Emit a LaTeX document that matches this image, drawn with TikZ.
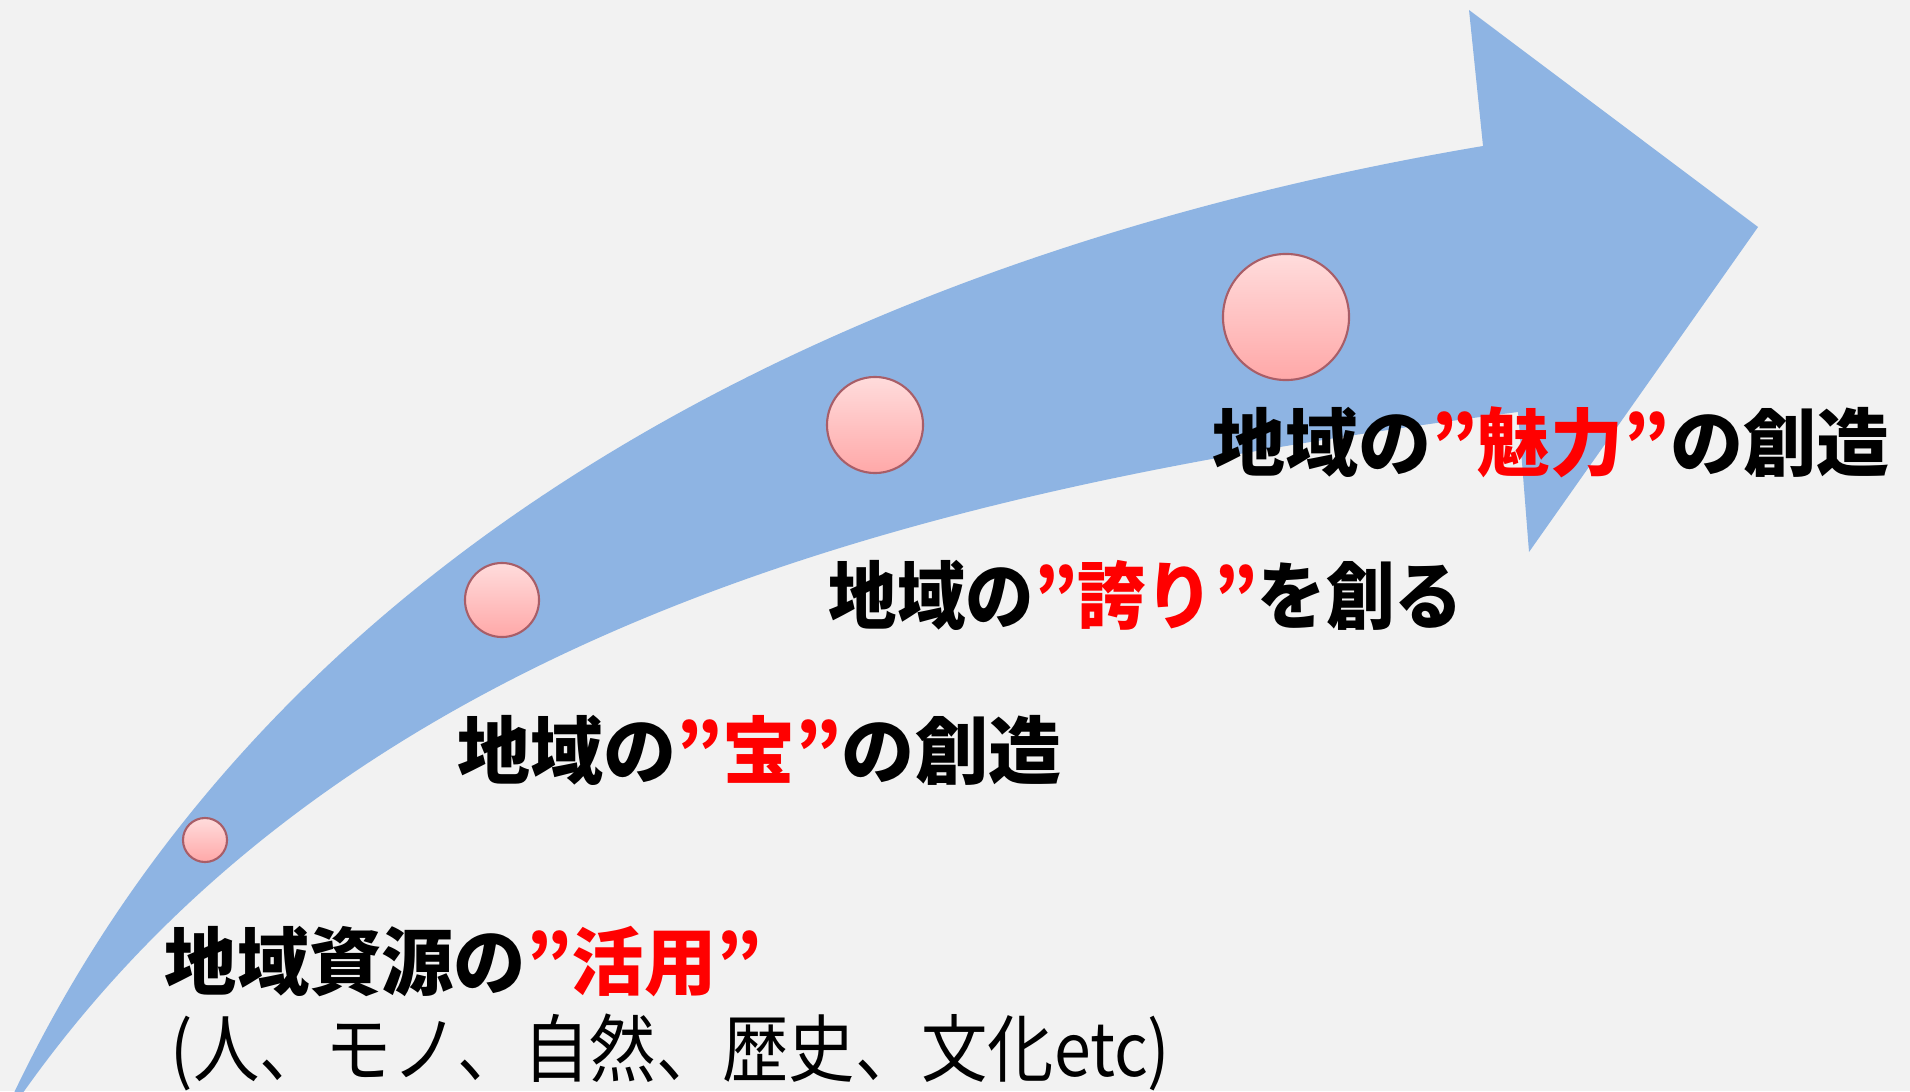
\documentclass[tikz,border=0pt]{standalone}
\usepackage{graphicx}
\usepackage{fontspec}
\newfontfamily\jp{Noto Sans CJK JP}
\definecolor{bg}{HTML}{F2F2F2}
\definecolor{arrowblue}{HTML}{8EB4E3}
\definecolor{pinktop}{HTML}{FFDCDC}
\definecolor{pinkbot}{HTML}{FFA8A8}
\definecolor{pinkedge}{HTML}{A85E68}
\definecolor{hl}{HTML}{FF0000}
\newcommand\hlt[1]{\textcolor{hl}{#1}}
\begin{document}
\begin{tikzpicture}[x=0.01cm,y=-0.01cm,
  dot/.style={circle, draw=pinkedge, line width=0.6pt, top color=pinktop, bottom color=pinkbot, inner sep=0pt},
  lbl/.style={anchor=west, inner sep=0pt, text=black, font=\jp\bfseries\fontsize{21pt}{25pt}\selectfont},
  sublbl/.style={anchor=west, inner sep=0pt, text=black, font=\jp\fontsize{21pt}{25pt}\selectfont}]
\useasboundingbox (0,0) rectangle (1910,1091);
\fill[bg] (0,0) rectangle (1910,1091);
\begin{scope}
\clip (0,0) rectangle (1910,1091);
\fill[arrowblue] (12,1097) .. controls (286,519) and (889,246) .. (1483,146)
  -- (1469,10) -- (1758,227) -- (1529,552) -- (1518,412)
  .. controls (973,483) and (361,611) .. (20,1097) -- cycle;
\end{scope}
\node[dot, minimum size=0.44cm] (c1) at (205,840) {};
\node[dot, minimum size=0.74cm] (c2) at (502,600) {};
\node[dot, minimum size=0.96cm] (c3) at (875,425) {};
\node[dot, minimum size=1.26cm] (c4) at (1286,317) {};
\node[lbl] (t1) at (164,962) {\resizebox{5.97cm}{\height}{地域資源の\hlt{”活用”}}};
\node[sublbl] (t2) at (170,1052) {\resizebox{9.99cm}{\height}{(人、モノ、自然、歴史、文化etc)}};
\node[lbl] (t3) at (457,750) {\resizebox{6.03cm}{\height}{地域の\hlt{”宝”}の創造}};
\node[lbl] (t4) at (828,595) {\resizebox{6.34cm}{\height}{地域の\hlt{”誇り”}を創る}};
\node[lbl] (t5) at (1212,442) {\resizebox{6.76cm}{\height}{地域の\hlt{”魅力”}の創造}};
\end{tikzpicture}
\end{document}
